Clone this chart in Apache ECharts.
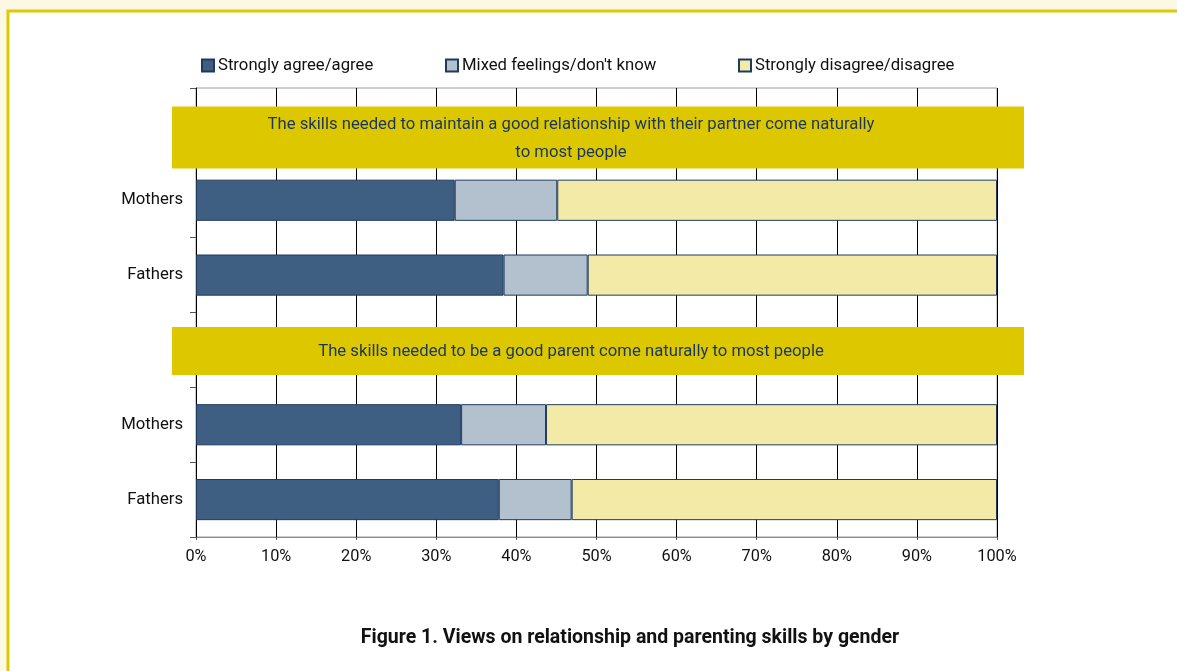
<!DOCTYPE html>
<html>
<head>
<meta charset="utf-8">
<script src="https://cdn.jsdelivr.net/npm/echarts@6/dist/echarts.min.js"></script>
<style>
html,body{margin:0;padding:0;background:#fcf8e4;}
#c{width:1177px;height:671px;}
</style>
</head>
<body>
<div id="c"></div>
<script>
// ---- data ----
const rowLabels = ['', 'Mothers', 'Fathers', '', 'Mothers', 'Fathers'];
const seriesNames = ['Strongly agree/agree', "Mixed feelings/don't know", 'Strongly disagree/disagree'];
const agree    = [null, 32.3, 38.4, null, 33.1, 37.8];
const mixed    = [null, 12.8, 10.5, null, 10.6,  9.1];
const disagree = [null, 54.9, 51.1, null, 56.3, 53.1];
const xTicks = [0, 10, 20, 30, 40, 50, 60, 70, 80, 90, 100];
const bannerRows = [0, 3];
const bannerTexts = [
  'The skills needed to maintain a good relationship with their partner come naturally\nto most people',
  'The skills needed to be a good parent come naturally to most people'
];
const figureTitle = 'Figure 1. Views on relationship and parenting skills by gender';

// ---- styling ----
const FONT = 'Roboto, "Noto Sans", sans-serif';
const colors = ['#3f5f82', '#b3c1cf', '#f3eaa8'];
const bannerGeom = [ {top: -19, bottom: 43}, {top: -23, bottom: 25} ];

const chart = echarts.init(document.getElementById('c'));

const barSeries = [agree, mixed, disagree].map((d, i) => ({
  name: seriesNames[i],
  type: 'bar',
  stack: 'total',
  data: d,
  barCategoryGap: '45%',
  itemStyle: { color: colors[i], borderColor: '#1f3a5f', borderWidth: 1 },
  emphasis: { disabled: true },
  z: 3
}));

const bannerSeries = {
  type: 'custom',
  data: bannerRows.map((r, i) => [0, r, i]),
  encode: { x: 0, y: 1 },
  z: 5,
  silent: true,
  renderItem: function (params, api) {
    const idx = api.value(2);
    const row = api.value(1);
    const left = api.coord([0, row]);
    const right = api.coord([100, row]);
    const g = bannerGeom[idx];
    const x0 = left[0] - 24, x1 = right[0] + 27;
    const y0 = left[1] + g.top, y1 = left[1] + g.bottom;
    return {
      type: 'group',
      children: [
        { type: 'rect', shape: { x: x0, y: y0, width: x1 - x0, height: y1 - y0 },
          style: { fill: '#ddc800' } },
        { type: 'text', x: (x0 + x1) / 2 - 27, y: (y0 + y1) / 2 + 1,
          style: { text: bannerTexts[idx], fill: '#1a355e', font: '16.7px ' + FONT,
                   align: 'center', verticalAlign: 'middle', lineHeight: 28 } }
      ]
    };
  }
};

chart.setOption({
  animation: false,
  backgroundColor: '#fcf8e4',
  textStyle: { fontFamily: FONT },
  graphic: [
    { type: 'rect', z: -10, shape: { x: 8, y: 11, width: 1300, height: 800 },
      style: { fill: '#ffffff', stroke: '#dccb00', lineWidth: 3 } },
    { type: 'text', z: 10,
      style: { text: figureTitle, font: 'bold 19.5px ' + FONT, fill: '#111', x: 630, y: 638, align: 'center', verticalAlign: 'middle' } }
  ],
  legend: seriesNames.map((n, i) => ({
    data: [n],
    left: [196, 440, 733][i],
    top: 52,
    itemWidth: 12, itemHeight: 12, itemGap: 4,
    icon: 'rect',
    textStyle: { fontFamily: FONT, fontSize: 16.7, color: '#111', padding: [0, 0, 0, -1] },
    selectedMode: false
  })),
  grid: { left: 196, right: 180, top: 88, bottom: 134, show: true, borderColor: '#9a9a9a', borderWidth: 1 },
  xAxis: {
    type: 'value', min: 0, max: 100, interval: 10,
    axisLine: { show: true, lineStyle: { color: '#8a8a8a' } },
    axisTick: { show: true, length: 3, lineStyle: { color: '#555' } },
    splitLine: { show: true, lineStyle: { color: '#000', width: 1 } },
    axisLabel: { formatter: v => xTicks.includes(v) ? v + '%' : '', fontFamily: FONT, fontSize: 16.3, color: '#111', margin: 12 }
  },
  yAxis: {
    type: 'category', data: rowLabels, inverse: true,
    axisLine: { show: true, lineStyle: { color: '#000' } },
    axisTick: { show: true, length: 6, lineStyle: { color: '#555' } },
    axisLabel: { fontFamily: FONT, fontSize: 16.7, color: '#111', margin: 13 },
    splitLine: { show: false }
  },
  series: barSeries.concat([bannerSeries])
});
</script>
</body>
</html>
